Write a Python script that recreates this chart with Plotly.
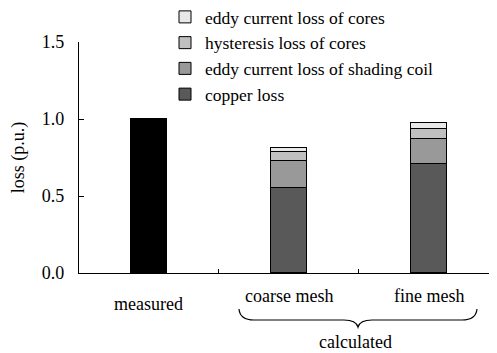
import plotly.graph_objects as go

categories = ["measured", "coarse mesh", "fine mesh"]
measured = [1.0, None, None]
copper = [None, 0.555, 0.708]
shading = [None, 0.171, 0.160]
hysteresis = [None, 0.058, 0.065]
eddy_core = [None, 0.028, 0.043]
yticks = [0.0, 0.5, 1.0, 1.5]
ytick_labels = ["0.0", "0.5", "1.0", "1.5"]

FONT = "'Liberation Serif', 'Times New Roman', serif"
FS = 18
OFF = 8  # page body margin
W, H = 497 - OFF, 353 - OFF
L, T = 79 - OFF, 42 - OFF
R = W - (489 - OFF)
B = H - (273 - OFF)
PW, PH = W - L - R, H - T - B

def px(x, y):
    """screen pixel -> paper coords"""
    return ((x - OFF) - L) / PW, (H - B - (y - OFF)) / PH

xi = [0, 1, 2]
fig = go.Figure()
line = dict(color="black", width=1)
fig.add_trace(go.Bar(x=xi, y=measured, marker=dict(color="black", line=line), width=0.26, showlegend=False))
fig.add_trace(go.Bar(x=xi, y=copper, name="copper loss", marker=dict(color="#595959", line=line), width=0.26))
fig.add_trace(go.Bar(x=xi, y=shading, name="eddy current loss of shading coil", marker=dict(color="#999999", line=line), width=0.26))
fig.add_trace(go.Bar(x=xi, y=hysteresis, name="hysteresis loss of cores", marker=dict(color="#c0c0c0", line=line), width=0.26))
fig.add_trace(go.Bar(x=xi, y=eddy_core, name="eddy current loss of cores", marker=dict(color="#e8e8e8", line=line), width=0.26))

annotations = []
for i, c in enumerate(categories):
    ypx = 304 if i == 0 else 296
    annotations.append(dict(x=i, xref="x", y=px(0, ypx)[1], yref="paper", text=c, showarrow=False,
                            font=dict(family=FONT, size=FS, color="black"), xanchor="center", yanchor="middle"))
cx, cy = px(355, 342)
annotations.append(dict(x=cx, y=cy, xref="paper", yref="paper", text="calculated", showarrow=False,
                        font=dict(family=FONT, size=FS, color="black"), xanchor="center", yanchor="middle"))

def P(x, y):
    a, b = px(x, y)
    return f"{a:.4f},{b:.4f}"
path = ("M " + P(239, 309) + " Q " + P(240, 320) + " " + P(254, 320) + " L " + P(344, 320)
        + " Q " + P(356, 320) + " " + P(358, 327) + " Q " + P(360, 320) + " " + P(372, 320)
        + " L " + P(462, 320) + " Q " + P(476, 320) + " " + P(477, 309))
shapes = [dict(type="path", xref="paper", yref="paper", path=path, line=dict(color="black", width=1.2))]

fig.update_layout(
    barmode="stack",
    width=W, height=H,
    margin=dict(l=L, r=R, t=T, b=B, autoexpand=False),
    plot_bgcolor="white", paper_bgcolor="white",
    font=dict(family=FONT, size=FS, color="black"),
    xaxis=dict(range=[-0.5, 2.43], showticklabels=False, tickvals=[0.5, 1.5], ticks="inside", ticklen=4,
               tickcolor="black", showline=True, linecolor="black", linewidth=1.2, showgrid=False, zeroline=False,
               automargin=False),
    yaxis=dict(range=[0, 1.5], tickvals=yticks, ticktext=ytick_labels, ticks="inside", ticklen=5, tickcolor="black",
               showline=True, linecolor="black", linewidth=1.2, showgrid=False, zeroline=False, automargin=False,
               ticklabelstandoff=10, tickfont=dict(family=FONT, size=FS),
               title=dict(text="loss (p.u.)", font=dict(family=FONT, size=FS), standoff=22)),
    legend=dict(x=px(205 - 40, 0)[0], y=px(0, -1)[1], xanchor="left", yanchor="top", traceorder="reversed",
                bgcolor="rgba(0,0,0,0)", font=dict(family=FONT, size=17.5), itemwidth=30, tracegroupgap=0),
    annotations=annotations,
    shapes=shapes,
    bargap=0,
)
fig.write_html("out.html")
